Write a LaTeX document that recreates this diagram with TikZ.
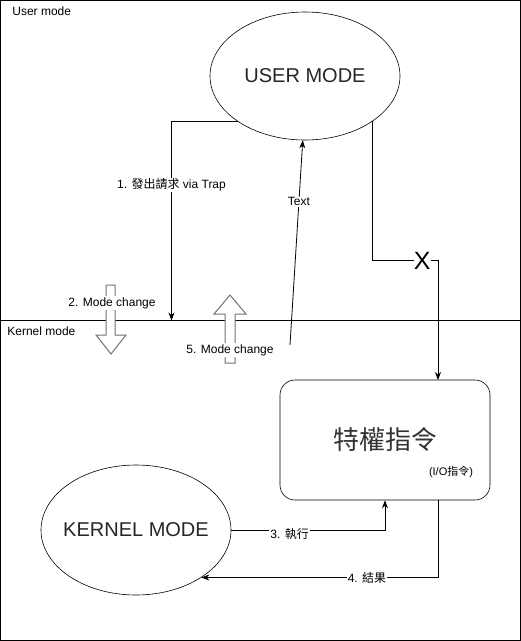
\documentclass[tikz,border=0pt]{standalone}
\usepackage{fontspec}
\setmainfont{Liberation Sans}
\newfontfamily\cjk{Noto Sans CJK TC}
\usepackage{tikz}
\usetikzlibrary{arrows.meta, positioning, calc, shapes.geometric}

\newcommand{\fsz}[1]{\fontsize{#1}{#1}\selectfont}

\begin{document}
\begin{tikzpicture}[x=1pt, y=-1pt, >=Stealth, line width=0.8pt,
  conn/.style={->, line width=0.8pt, >={Stealth[length=8pt,width=6pt]}},
  lbl/.style={fill=white, inner sep=1pt, font=\fsz{12}},
  modebox/.style={ellipse, draw, line width=0.6pt, minimum width=190pt,
    minimum height=128pt, inner sep=0pt},
  modetxt/.style={font=\fsz{20}, text=black!85, inner sep=0pt},
  blockarrow/.style={draw=black!55, line width=1pt, fill=white}]
  \useasboundingbox (0,0) rectangle (521,641);
  %% regions
  \draw[line width=1pt] (0.5,0.5) rectangle (520.5,320.5);
  \draw[line width=1pt] (0.5,320.5) rectangle (520.5,640.5);
  \node[font=\fsz{12}, anchor=west, inner sep=0pt] (umode) at (12,11) {User mode};
  \node[font=\fsz{12}, anchor=west, inner sep=0pt] (kmode) at (7,331) {Kernel mode};
  %% states
  \node[modebox] (user) at (305,76) {};
  \node[modetxt] (usertxt) at (user) {USER MODE};
  \node[modebox, minimum height=130pt] (kernel) at (136,530) {};
  \node[modetxt] (kerneltxt) at (kernel) {KERNEL MODE};
  \node[draw, rounded corners=15pt, line width=0.6pt, minimum width=210pt,
    minimum height=120pt] (priv) at (385,440) {};
  \node[font=\fsz{26}\cjk, text=black!80] (privtxt) at (385,440) {特權指令};
  \node[font=\fsz{11}, inner sep=0pt] (iotxt) at (451,472) {(I/O{\cjk 指令})};
  %% block arrows for mode change
  \draw[blockarrow] (106,285) -- (106,335) -- (96,335) -- (111,354)
    -- (126,335) -- (115,335) -- (115,285) -- cycle;
  \draw[blockarrow] (225,363) -- (225,314) -- (214,314) -- (230,295)
    -- (246,314) -- (235,314) -- (235,363) -- cycle;
  \node[lbl] (mc2) at (112,303) {2. Mode change};
  \node[lbl] (mc5) at (230,350) {5. Mode change};
  %% connectors
  \coordinate (trap) at (171.5,320.5);
  \coordinate (textsrc) at (290,345);
  \coordinate (xbend) at (438,260);
  \coordinate (xin) at (438,380);
  \draw[conn] (user.214) -| (trap)
    node[lbl, pos=0.66] {1. {\cjk 發出請求} via Trap};
  \draw[conn] (textsrc) -- (user.268) node[lbl, pos=0.7] {Text};
  \draw[conn] (user.326) |- (xbend)
    node[lbl, pos=0.88, inner sep=0pt, font=\fsz{25}, yshift=-1pt] {X} -- (xin);
  \draw[conn] (kernel.east) -| (priv.south)
    node[lbl, pos=0.19, yshift=-4pt] {3. {\cjk 執行}};
  \draw[conn] ($(priv.south)+(53,0)$) |- (kernel.324)
    node[lbl, pos=0.65] {4. {\cjk 結果}};
\end{tikzpicture}
\end{document}
